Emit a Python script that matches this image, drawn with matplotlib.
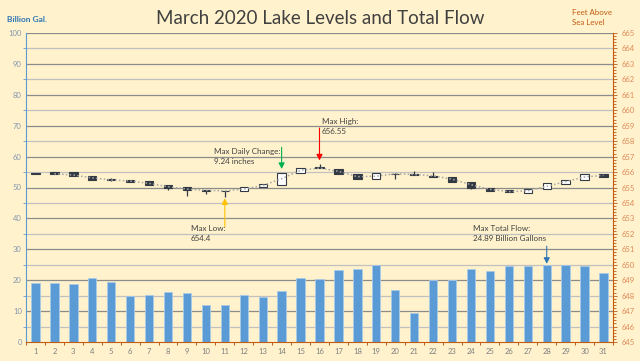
import numpy as np
import matplotlib
matplotlib.use("Agg")
import matplotlib.pyplot as plt

plt.rcParams['font.family'] = ['Lato', 'DejaVu Sans']

# daily data, March 2020
days = list(range(1, 32))
flow = [19.0, 19.0, 18.8, 20.7, 19.5, 15.0, 15.2, 16.2, 15.9, 12.0,
        12.0, 15.2, 14.6, 16.6, 20.7, 20.5, 23.4, 23.5, 24.8, 16.7,
        9.4, 20.0, 20.0, 23.7, 23.0, 24.7, 24.7, 24.89, 24.8, 24.6, 22.4]

lvl_open = [655.93, 656.00, 655.98, 655.76, 655.52, 655.48, 655.40, 655.18, 655.01, 654.83,
            654.79, 654.79, 655.05, 655.17, 655.92, 656.35, 656.20, 655.87, 655.55, 655.90,
            655.85, 655.74, 655.66, 655.38, 654.99, 654.82, 654.67, 654.88, 655.25, 655.47, 655.87]
lvl_close = [655.90, 655.88, 655.74, 655.50, 655.47, 655.37, 655.16, 654.95, 654.84, 654.80,
             654.76, 655.05, 655.20, 655.94, 656.28, 656.24, 655.85, 655.55, 655.91, 655.87,
             655.81, 655.70, 655.38, 654.99, 654.77, 654.69, 654.88, 655.27, 655.49, 655.87, 655.71]
lvl_high = [655.95, 656.01, 655.98, 655.76, 655.62, 655.48, 655.40, 655.18, 655.01, 654.85,
            654.80, 655.05, 655.20, 655.94, 656.28, 656.55, 656.20, 655.87, 655.91, 655.91,
            656.09, 656.02, 655.66, 655.38, 654.99, 654.82, 654.88, 655.27, 655.49, 655.87, 655.87]
lvl_low = [655.88, 655.88, 655.74, 655.50, 655.40, 655.37, 655.16, 654.86, 654.47, 654.56,
           654.40, 654.79, 655.05, 655.17, 655.92, 656.24, 655.85, 655.55, 655.55, 655.58,
           655.81, 655.70, 655.38, 654.88, 654.77, 654.69, 654.67, 654.88, 655.25, 655.47, 655.71]

bg = '#fff2cc'
blue = '#5b9bd5'
orange = '#c55a11'
dark = '#333a44'

fig = plt.figure(figsize=(6.4, 3.61), dpi=100, facecolor=bg)
ax = fig.add_axes([26 / 640, 19 / 361, 587 / 640, 309 / 361])
ax.set_facecolor(bg)
ax2 = ax.twinx()

# gridlines (every 5 left units = every foot on right)
for g in range(5, 101, 5):
    ax.axhline(g, color='#8c8c8c' if g % 10 == 0 else '#c0c0c0', lw=0.9, zorder=0)

# flow bars
ax.bar(days, flow, width=0.44, color=blue, edgecolor='#a9c9e8', linewidth=0.6, zorder=2)
ax.set_xlim(0.5, 31.5)
ax.set_ylim(0, 100)
ax.set_yticks(range(0, 101, 10))
ax.set_yticks(range(0, 101, 5), minor=True)
ax.set_xticks(days)
ax.set_xticks(np.arange(0.5, 32, 1), minor=True)

# candlesticks on the lake level axis
o = np.array(lvl_open)
c = np.array(lvl_close)
up = c >= o
bottoms = np.minimum(o, c)
heights = np.maximum(np.abs(c - o), 0.025)
ax2.vlines(days, lvl_low, lvl_high, color=dark, lw=0.9, zorder=2)
ax2.bar(days, heights, bottom=bottoms, width=0.44,
        color=['white' if u else dark for u in up], edgecolor=dark, linewidth=0.8, zorder=3)

# moving average trendline (2 periods)
ma = (c[1:] + c[:-1]) / 2
ax2.plot(days[1:], ma, color='#a6a6a6', ls=(0, (1, 1.5)), lw=1.1, zorder=4)
ax2.set_ylim(645, 665)
ax2.set_yticks(range(645, 666))
ax2.set_yticks(np.arange(645, 665.01, 0.2), minor=True)

# axis styling
for a in (ax, ax2):
    for s in a.spines.values():
        s.set_visible(False)
ax.spines['left'].set_visible(True)
ax.spines['left'].set_color(blue)
ax.spines['bottom'].set_visible(True)
ax.spines['bottom'].set_color(orange)
ax2.spines['right'].set_visible(True)
ax2.spines['right'].set_color(orange)
ax.tick_params(axis='y', which='both', colors=blue, labelcolor='#8497b0', labelsize=5.5, length=2, width=0.6, pad=3)
ax.tick_params(axis='y', which='major', length=0)
ax.tick_params(axis='x', which='major', length=0, labelsize=5.5, labelcolor='#7f7f7f', pad=4)
ax.tick_params(axis='x', which='minor', length=2.5, color=orange, width=0.7)
ax2.tick_params(axis='y', which='both', colors=orange, labelcolor='#e0895a', labelsize=5.5, length=2, width=0.6, pad=3)
ax2.tick_params(axis='y', which='major', length=3)

# annotations
txt = dict(fontsize=5.8, color='#404040', va='center', ha='left', linespacing=1.5)
ax2.text(16.13, 658.97, 'Max High:\n656.55', **txt)
ax2.text(10.45, 657.02, 'Max Daily Change:\n9.24 inches', **txt)
ax2.text(9.2, 652.04, 'Max Low:\n654.4', **txt)
ax2.text(24.1, 652.0, 'Max Total Flow:\n24.89 Billion Gallons', **txt)

arr = dict(arrowstyle='-|>,head_length=0.35,head_width=0.18', lw=0.8, shrinkA=0, shrinkB=0)
ax2.annotate('', xy=(16, 656.75), xytext=(16, 658.85), arrowprops=dict(arr, color='#ff0000'))
ax2.annotate('', xy=(14, 656.2), xytext=(14, 657.6), arrowprops=dict(arr, color='#00b050'))
ax2.annotate('', xy=(11, 654.3), xytext=(11, 652.45), arrowprops=dict(arr, color='#ffc000'))
ax.annotate('', xy=(28, 25.3), xytext=(28, 31.0), arrowprops=dict(arr, color='#2e75b6'))

fig.text(0.5, 1 - 18 / 361, 'March 2020 Lake Levels and Total Flow', ha='center', va='center',
         fontsize=13.5, color='#404040')
fig.text(7 / 640, 1 - 19 / 361, 'Billion Gal.', ha='left', va='center', fontsize=6,
         color='#2e75b6', fontweight='bold')
fig.text(572 / 640, 1 - 17.2 / 361, 'Feet Above\nSea Level', ha='left', va='center', fontsize=5.7,
         color=orange, linespacing=1.5)

fig.savefig('out.png', dpi=100, facecolor=bg)
